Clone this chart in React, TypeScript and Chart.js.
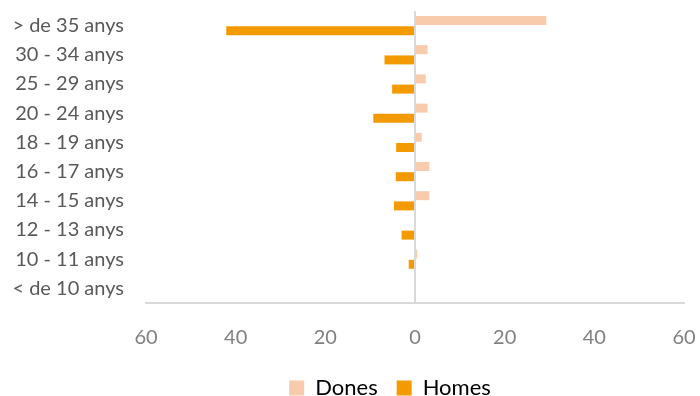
import React, { useEffect, useRef } from "react";
import { Chart, registerables } from "chart.js";

Chart.register(...registerables);

const categories = [
  "> de 35 anys",
  "30 - 34 anys",
  "25 - 29 anys",
  "20 - 24 anys",
  "18 - 19 anys",
  "16 - 17 anys",
  "14 - 15 anys",
  "12 - 13 anys",
  "10 - 11 anys",
  "< de 10 anys",
];
const dones = [29.3, 2.8, 2.4, 2.8, 1.5, 3.2, 3.2, 0, 0.5, 0];
const homes = [-42.1, -6.8, -5.1, -9.3, -4.2, -4.3, -4.7, -3.0, -1.4, 0];
const xMin = -60;
const xMax = 60;
const xStep = 20;

const FONT = "Lato, 'Open Sans', sans-serif";

const shiftLegend = {
  id: "shiftLegend",
  afterLayout(chart: any) {
    const l = chart.legend;
    if (l) {
      l.left += 43;
      l.right += 43;
    }
  },
};

export default function App() {
  const ref = useRef<HTMLCanvasElement | null>(null);
  useEffect(() => {
    document.body.style.margin = "0";
    const ctx = ref.current!;
    const chart = new Chart(ctx, {
      type: "bar",
      data: {
        labels: categories,
        datasets: [
          {
            label: "Dones",
            data: dones,
            backgroundColor: "#F8CBAD",
            categoryPercentage: 0.7,
            barPercentage: 0.88,
          },
          {
            label: "Homes",
            data: homes,
            backgroundColor: "#F39A00",
            categoryPercentage: 0.7,
            barPercentage: 0.88,
          },
        ],
      },
      plugins: [shiftLegend],
      options: {
        indexAxis: "y",
        animation: false,
        responsive: false,
        maintainAspectRatio: false,
        layout: { padding: { left: 10, right: 16, top: 11, bottom: -13 } },
        plugins: {
          tooltip: { enabled: false },
          legend: {
            position: "bottom",
            labels: {
              boxWidth: 15,
              boxHeight: 15,
              padding: 19,
              color: "#000000",
              font: { family: FONT, size: 22 },
            },
          },
        },
        scales: {
          x: {
            min: xMin,
            max: xMax,
            ticks: {
              stepSize: xStep,
              color: "#808080",
              padding: 23,
              font: { family: FONT, size: 20 },
              callback: (v: any) => String(Math.abs(Number(v))),
            },
            grid: {
              drawTicks: false,
              lineWidth: 2,
              color: (c: any) => (c.tick && c.tick.value === 0 ? "#D9D9D9" : "rgba(0,0,0,0)"),
            },
            border: { display: true, color: "#D9D9D9", width: 2 },
            afterFit: (s: any) => {
              s.height = 55;
              s.paddingLeft = 0;
              s.paddingRight = 0;
            },
          },
          y: {
            ticks: {
              color: "#595959",
              padding: 22,
              font: { family: FONT, size: 20 },
            },
            grid: { display: false, drawTicks: false },
            border: { display: false },
            afterFit: (s: any) => {
              s.width = 136;
              s.paddingTop = 0;
              s.paddingBottom = 0;
            },
          },
        },
      },
    });
    return () => chart.destroy();
  }, []);
  return (
    <div style={{ width: 700, height: 396 }}>
      <canvas ref={ref} width={700} height={396} style={{ display: "block" }} />
    </div>
  );
}
